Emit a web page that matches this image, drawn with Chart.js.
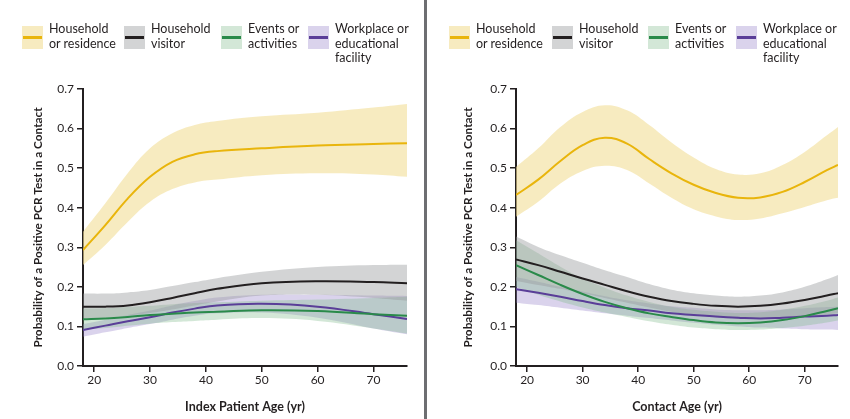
<!DOCTYPE html>
<html>
<head>
<meta charset="utf-8">
<script src="https://cdn.jsdelivr.net/npm/chart.js@4.4.1/dist/chart.umd.min.js"></script>
<style>
  body { margin: 0; background: #fff; }
  #wrap { position: relative; width: 850px; height: 419px; overflow: hidden; font-family: Lato, "Open Sans", sans-serif; color: #231f20; }
  canvas { position: absolute; top: 0; }
  .sep { position: absolute; left: 424px; top: 0; width: 3px; height: 419px; background: #6d6e71; }
  .leg { position: absolute; top: 22px; display: flex; align-items: flex-start; font-size: 12.5px; line-height: 14.5px; }
  .sw { position: relative; width: 21px; height: 23px; margin-top: 4px; margin-right: 6px; }
  .sw i { position: absolute; left: 1px; right: 1px; top: 10px; height: 2.5px; }
</style>
</head>
<body>
<div id="wrap">
  <canvas id="left" width="425" height="419" style="left:0"></canvas>
  <canvas id="right" width="425" height="419" style="left:425px"></canvas>
  <div class="sep"></div>
</div>
<script>
// legend / series names
let seriesNames = [['Household', 'or residence'], ['Household', 'visitor'], ['Events or', 'activities'], ['Workplace or', 'educational', 'facility']]
let lineColors = ['#e9b50c', '#231f20', '#2a8a4a', '#5a3e98']
let bandColors = ['rgba(242,222,150,0.6)', 'rgba(150,152,156,0.42)', 'rgba(130,185,140,0.35)', 'rgba(150,130,200,0.35)']

// left panel: index patient age
let indexAges = [18, 22, 26, 30, 34, 38, 42, 50, 60, 70, 76]
let idxHousehold = [0.293, 0.356, 0.423, 0.478, 0.516, 0.535, 0.543, 0.55, 0.557, 0.561, 0.563]
let idxHouseholdHi = [0.339, 0.411, 0.487, 0.55, 0.588, 0.609, 0.619, 0.631, 0.64, 0.653, 0.662]
let idxHouseholdLo = [0.255, 0.306, 0.364, 0.415, 0.447, 0.464, 0.471, 0.482, 0.487, 0.484, 0.478]
let idxVisitor = [0.15, 0.15, 0.153, 0.161, 0.172, 0.184, 0.195, 0.209, 0.214, 0.212, 0.209]
let idxVisitorHi = [0.183, 0.183, 0.186, 0.192, 0.202, 0.212, 0.222, 0.238, 0.25, 0.255, 0.256]
let idxVisitorLo = [0.12, 0.122, 0.127, 0.134, 0.143, 0.153, 0.163, 0.178, 0.18, 0.172, 0.165]
let idxEvents = [0.118, 0.12, 0.124, 0.129, 0.132, 0.135, 0.137, 0.141, 0.139, 0.131, 0.127]
let idxEventsHi = [0.145, 0.146, 0.149, 0.152, 0.156, 0.159, 0.161, 0.165, 0.168, 0.172, 0.175]
let idxEventsLo = [0.092, 0.096, 0.102, 0.107, 0.111, 0.114, 0.117, 0.121, 0.114, 0.095, 0.082]
let idxWork = [0.091, 0.102, 0.113, 0.123, 0.135, 0.145, 0.153, 0.157, 0.15, 0.131, 0.119]
let idxWorkHi = [0.106, 0.117, 0.129, 0.14, 0.153, 0.164, 0.173, 0.18, 0.18, 0.178, 0.177]
let idxWorkLo = [0.074, 0.085, 0.096, 0.106, 0.117, 0.127, 0.133, 0.135, 0.122, 0.095, 0.08]

// right panel: contact age
let contactAges = [18, 22, 26, 30, 34, 38, 42, 46, 50, 54, 58, 62, 66, 70, 74, 76]
let conHousehold = [0.432, 0.471, 0.518, 0.558, 0.577, 0.562, 0.523, 0.487, 0.458, 0.437, 0.425, 0.426, 0.44, 0.465, 0.495, 0.508]
let conHouseholdHi = [0.503, 0.55, 0.604, 0.642, 0.659, 0.646, 0.609, 0.565, 0.527, 0.498, 0.484, 0.487, 0.508, 0.541, 0.583, 0.604]
let conHouseholdLo = [0.377, 0.415, 0.461, 0.493, 0.506, 0.495, 0.461, 0.425, 0.396, 0.378, 0.369, 0.373, 0.386, 0.402, 0.419, 0.425]
let conVisitor = [0.269, 0.255, 0.238, 0.221, 0.205, 0.189, 0.175, 0.164, 0.157, 0.152, 0.15, 0.152, 0.158, 0.167, 0.178, 0.184]
let conVisitorHi = [0.327, 0.301, 0.28, 0.261, 0.242, 0.225, 0.207, 0.193, 0.184, 0.178, 0.175, 0.178, 0.186, 0.2, 0.219, 0.23]
let conVisitorLo = [0.215, 0.205, 0.195, 0.184, 0.172, 0.16, 0.148, 0.137, 0.128, 0.123, 0.12, 0.12, 0.122, 0.125, 0.13, 0.133]
let conEvents = [0.255, 0.23, 0.205, 0.182, 0.162, 0.146, 0.133, 0.124, 0.116, 0.11, 0.108, 0.11, 0.116, 0.126, 0.139, 0.146]
let conEventsHi = [0.318, 0.285, 0.251, 0.221, 0.198, 0.178, 0.162, 0.15, 0.142, 0.137, 0.134, 0.136, 0.142, 0.152, 0.165, 0.173]
let conEventsLo = [0.2, 0.18, 0.163, 0.148, 0.135, 0.124, 0.113, 0.104, 0.097, 0.093, 0.091, 0.092, 0.096, 0.102, 0.11, 0.115]
let conWork = [0.194, 0.185, 0.175, 0.164, 0.154, 0.146, 0.14, 0.133, 0.129, 0.125, 0.122, 0.12, 0.122, 0.125, 0.127, 0.129]
let conWorkHi = [0.225, 0.213, 0.2, 0.188, 0.176, 0.166, 0.158, 0.151, 0.147, 0.143, 0.141, 0.141, 0.143, 0.146, 0.149, 0.15]
let conWorkLo = [0.16, 0.154, 0.147, 0.14, 0.133, 0.127, 0.121, 0.115, 0.109, 0.104, 0.1, 0.097, 0.095, 0.093, 0.092, 0.091]

let yTicks = [0, 0.1, 0.2, 0.3, 0.4, 0.5, 0.6, 0.7]
let xTicks = [20, 30, 40, 50, 60, 70]

let ink = '#231f20'

// legend is plain html above each panel
function addLegend(offsets) {
    let wrap = document.getElementById('wrap')
    seriesNames.forEach(function(name, i) {
        let d = document.createElement('div')
        d.className = 'leg'
        d.style.left = offsets[i] + 'px'
        d.innerHTML = '<div class="sw" style="background:' + bandColors[i] + '"><i style="background:' + lineColors[i] + '"></i></div><div>' + name.join('<br>') + '</div>'
        wrap.appendChild(d)
    })
}
addLegend([22, 124, 221, 308])
addLegend([449, 552, 648, 736])

function pts(xs, ys) {
    return xs.map((x, i) => ({x: x, y: ys[i]}))
}

function makePanel(id, ages, mids, his, los, xTitle, yWidth, yTitlePad, padRight) {
    let datasets = []
    mids.forEach(function(m, i) {
        datasets.push({data: pts(ages, m), borderColor: lineColors[i], borderWidth: 2, fill: false, order: 0})
    })
    his.forEach(function(h, i) {
        datasets.push({data: pts(ages, h), borderWidth: 0, backgroundColor: bandColors[i], fill: '+1', order: 1})
        datasets.push({data: pts(ages, los[i]), borderWidth: 0, fill: false, order: 1})
    })
    new Chart(document.getElementById(id), {
        type: 'line',
        data: {datasets: datasets},
        options: {
            responsive: false,
            animation: false,
            events: [],
            layout: {padding: {left: 0, top: 89, right: padRight, bottom: 0}},
            elements: {point: {radius: 0}, line: {tension: 0.4}},
            plugins: {legend: {display: false}, tooltip: {enabled: false}},
            scales: {
                x: {
                    type: 'linear', min: 18, max: 76,
                    afterBuildTicks: s => { s.ticks = xTicks.map(v => ({value: v})) },
                    afterFit: s => { s.height = 53 },
                    ticks: {color: ink, font: {family: 'Lato', size: 12}, padding: 1, maxRotation: 0},
                    grid: {drawOnChartArea: false, tickLength: 6, color: ink, lineWidth: 1.5},
                    border: {color: ink, width: 2},
                    title: {display: true, text: xTitle, color: ink, font: {family: 'Lato', size: 12.5, weight: 'bold'}, padding: {top: 0, bottom: 5}}
                },
                y: {
                    min: 0, max: 0.7,
                    afterBuildTicks: s => { s.ticks = yTicks.map(v => ({value: v})) },
                    afterFit: s => { s.width = yWidth },
                    ticks: {color: ink, font: {family: 'Lato', size: 12}, padding: 3, callback: v => v.toFixed(1)},
                    grid: {drawOnChartArea: false, tickLength: 6, color: ink, lineWidth: 1.5},
                    border: {color: ink, width: 2},
                    title: {display: true, text: 'Probability of a Positive PCR Test in a Contact', color: ink, font: {family: 'Lato', size: 11.8, weight: 'bold'}, padding: {top: yTitlePad, bottom: 0}}
                }
            }
        }
    })
}

makePanel('left', indexAges,
    [idxHousehold, idxVisitor, idxEvents, idxWork],
    [idxHouseholdHi, idxVisitorHi, idxEventsHi, idxWorkHi],
    [idxHouseholdLo, idxVisitorLo, idxEventsLo, idxWorkLo],
    'Index Patient Age (yr)', 83, 31, 18)

makePanel('right', contactAges,
    [conHousehold, conVisitor, conEvents, conWork],
    [conHouseholdHi, conVisitorHi, conEventsHi, conWorkHi],
    [conHouseholdLo, conVisitorLo, conEventsLo, conWorkLo],
    'Contact Age (yr)', 91, 36, 12)
</script>
</body>
</html>
